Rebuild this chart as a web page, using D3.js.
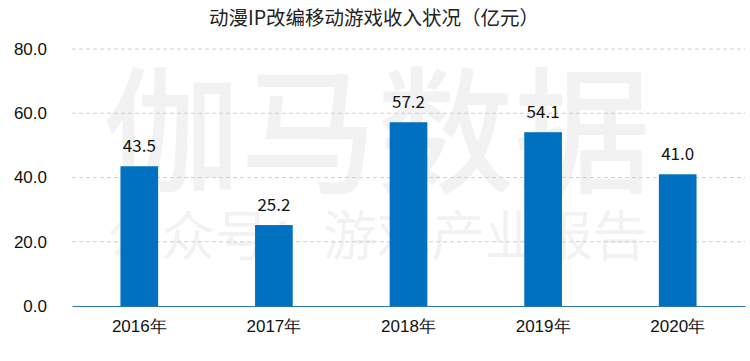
<!DOCTYPE html>
<html><head><meta charset="utf-8">
<script src="https://cdn.jsdelivr.net/npm/d3@7"></script>
<style>body{margin:0;background:#fff}svg{display:block;font-family:"Noto Sans CJK SC","Noto Sans",sans-serif}</style>
</head><body><svg id="c" width="750" height="361"></svg>
<script>
const title = "动漫IP改编移动游戏收入状况（亿元）";
const categories = ["2016年","2017年","2018年","2019年","2020年"];
const values = [43.5, 25.2, 57.2, 54.1, 41.0];
const yTicks = [0, 20, 40, 60, 80];

const svg = d3.select("#c");
const m = {left:72, right:5};
const W = 750;
const x = d3.scaleBand().domain(categories).range([m.left, W - m.right]).paddingInner(0.72).paddingOuter(0.36);
const y = d3.scaleLinear().domain([0, 80]).range([306, 49]);

svg.append("text").attr("x", 374).attr("y", 25).attr("text-anchor","middle")
  .attr("font-size", 19.5).attr("fill", "#222").text(title);

// y axis labels
const yAxis = d3.axisLeft(y).tickValues(yTicks).tickFormat(d3.format(".1f")).tickSize(0).tickPadding(25);
const ga = svg.append("g").attr("transform", `translate(${m.left},0)`).call(yAxis);
ga.select(".domain").remove();
ga.selectAll("text").attr("font-size", 17).attr("fill", "#111").attr("font-family", "inherit");

// watermark (behind gridlines)
const wm = svg.append("g").attr("fill", "#000").attr("fill-opacity", 0.05).attr("pointer-events","none");
wm.append("text").attr("x", 103).attr("y", 183).attr("font-size", 137).attr("font-weight", 500).text("伽马数据");
wm.append("text").attr("x", 107).attr("y", 256).attr("font-size", 54).text("公众号：游戏产业报告");

// grid
svg.append("g").selectAll("line").data(yTicks.filter(d => d > 0)).join("line")
  .attr("x1", m.left).attr("x2", W - m.right).attr("y1", d => y(d)).attr("y2", d => y(d))
  .attr("stroke", "#d0d0d0").attr("stroke-dasharray", "4,3").attr("stroke-width", 1);

// bars
svg.append("g").selectAll("rect").data(values).join("rect")
  .attr("x", (d,i) => x(categories[i])).attr("width", x.bandwidth())
  .attr("y", d => y(d)).attr("height", d => y(0) - y(d)).attr("fill", "#0070C0");

// baseline
const xAxis = d3.axisBottom(x).tickSize(0).tickPadding(14);
const gx = svg.append("g").attr("transform", `translate(0,${y(0)})`).call(xAxis);
gx.select(".domain").attr("stroke", "#2E75B6").attr("stroke-width", 1.2);
gx.selectAll("text").attr("font-size", 17).attr("fill", "#111").attr("font-family", "inherit");

// value labels
svg.append("g").selectAll("text").data(values).join("text")
  .attr("x", (d,i) => x(categories[i]) + x.bandwidth()/2).attr("y", d => y(d) - 14)
  .attr("text-anchor","middle").attr("font-size", 17).attr("fill", "#111").text(d => d.toFixed(1));
</script></body></html>
